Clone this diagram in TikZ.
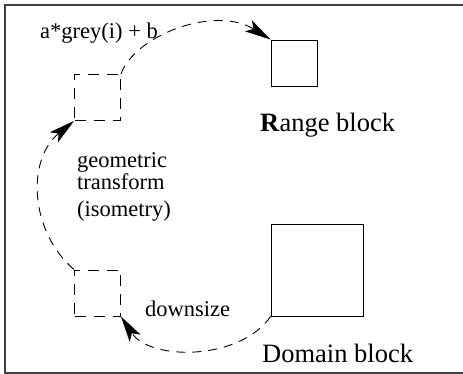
\documentclass[tikz,border=0pt]{standalone}
\usepackage{fontspec}
\setmainfont{Liberation Serif}
\newfontfamily\timesfont{Liberation Serif}
\usetikzlibrary{arrows.meta}
\begin{document}
\begin{tikzpicture}[x=1pt,y=-1pt,
  blk/.style={draw, line width=0.9pt, minimum width=#1, minimum height=#1, inner sep=0pt},
  dblk/.style={draw, line width=0.9pt, dash pattern=on 11pt off 8pt, minimum width=#1, minimum height=#1, inner sep=0pt},
  conn/.style={line width=0.9pt, dash pattern=on 9pt off 7pt},
  tip/.style={arrows={-Stealth[length=26pt,width=13pt,inset=6pt,sep=0pt]}},
  lbl/.style={font=\timesfont\fontsize{22.5}{25}\selectfont, inner sep=0pt},
  biglbl/.style={font=\timesfont\fontsize{26.5}{30}\selectfont, inner sep=0pt}]
\useasboundingbox (0,0) rectangle (463,374);
\draw[line width=1.2pt, black!75] (464,5) -- (5,5) -- (5,373) -- (464,373);
\node[blk=46pt] (range) at (294,63) {};
\node[blk=92pt] (domain) at (317,270) {};
\node[dblk=46pt] (dtop) at (97.5,97.5) {};
\node[dblk=46pt] (dbot) at (97.5,293) {};
\node[lbl, anchor=base west] (fn) at (40,39) {a*grey(i) + b};
\node[biglbl, anchor=base west] (rl) at (260,131.5) {\textbf{R}ange block};
\node[biglbl, anchor=base west] (dl) at (262,362.7) {Domain block};
\node[lbl, anchor=base west] (g1) at (77,168) {geometric};
\node[lbl, anchor=base west] (g2) at (77,190) {transform};
\node[lbl, anchor=base west] (g3) at (77,216) {(isometry)};
\node[lbl, anchor=base west] (ds) at (145,316.7) {downsize};
\draw[conn, tip] (domain.south west) .. controls (240,361) and (150,361) .. (dbot.south east);
\draw[conn, tip] (dbot.north west) .. controls (30,232) and (26,160) .. (dtop.south west);
\draw[conn, tip] (dtop.north east) .. controls (135,35) and (215,5) .. (range.north west);
\end{tikzpicture}
\end{document}
